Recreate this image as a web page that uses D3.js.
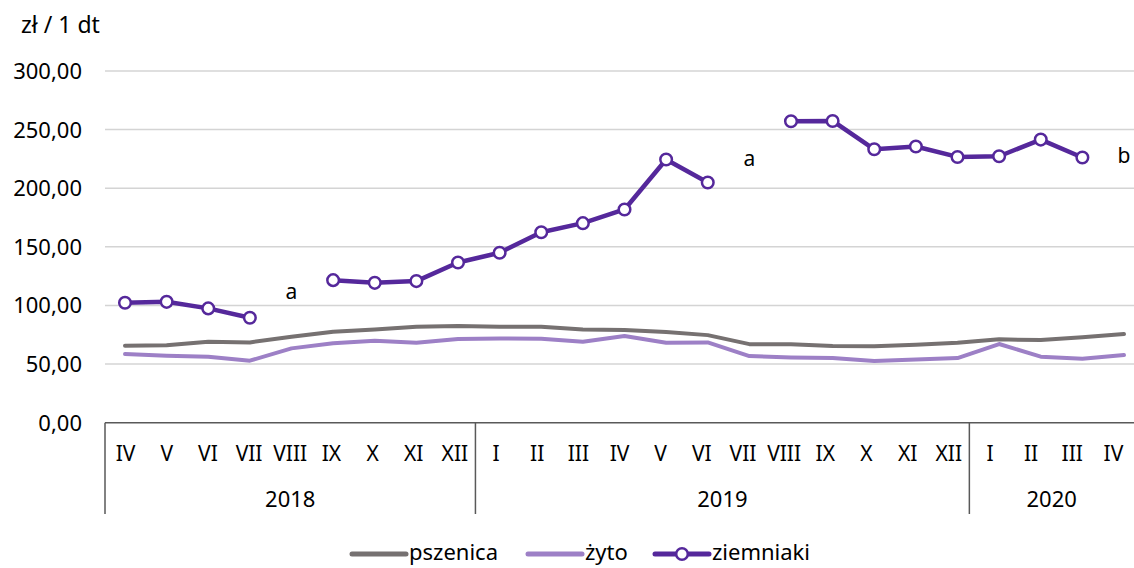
<!DOCTYPE html>
<html><head><meta charset="utf-8">
<script src="https://cdn.jsdelivr.net/npm/d3@7"></script>
<style>body{margin:0;background:#fff}svg{display:block}text{font-family:"Noto Sans",sans-serif;fill:#000}</style>
</head><body>
<script>
const months = ["IV","V","VI","VII","VIII","IX","X","XI","XII","I","II","III","IV","V","VI","VII","VIII","IX","X","XI","XII","I","II","III","IV"];
const years = [{label:"2018", start:0, end:9},{label:"2019", start:9, end:21},{label:"2020", start:21, end:25}];
const pszenica = [65.6,66,69,68.5,73.3,77.6,79.6,81.8,82.4,81.8,81.8,79.6,79,77.3,74.7,67,67,65.4,65.2,66.5,68.2,71.1,70.5,72.8,75.6];
const zyto = [58.6,57.1,56.3,52.9,63.4,67.7,69.9,68.2,71.3,71.9,71.6,69,73.9,68.2,68.5,56.8,55.7,55.1,52.6,54,55.1,67.1,56.3,54.6,57.7];
const ziemniaki = [102.3,103.1,97.5,89.5,null,121.6,119.3,120.8,136.7,145,162.5,170.2,181.9,224.5,204.9,null,257.1,257.4,233.2,235.6,226.7,227.3,241.5,226.2,null];
const yTicks = [0,50,100,150,200,250,300];
const notes = [{i:4, v:112, t:"a"},{i:15, v:225, t:"a"},{i:24, v:228, t:"b"}];
const seriesNames = ["pszenica","żyto","ziemniaki"];

const W=1134, H=568;
const colors = {pszenica:"#767171", "żyto":"#9D80C6", ziemniaki:"#55289B"};
const svg = d3.select("body").append("svg").attr("width",W).attr("height",H);

const y = d3.scaleLinear().domain([0,300]).range([422.7,71]);
const idx = d3.range(months.length);
const xp = d3.scalePoint().domain(idx).range([125,1124]);
const xb = d3.scaleBand().domain(idx).range([105,1134]);
const left = 105, right = 1134;

// grid
svg.append("g").selectAll("line").data(yTicks.filter(d=>d>0)).join("line")
  .attr("x1",left).attr("x2",right).attr("y1",d=>y(d)).attr("y2",d=>y(d))
  .attr("stroke","#d4d4d4").attr("stroke-width",1.5);

// y tick labels
svg.append("g").selectAll("text").data(yTicks).join("text")
  .attr("x",82).attr("y",d=>y(d)).attr("dy","0.36em").attr("text-anchor","end")
  .style("font-size","22px").text(d=>d3.format(".2f")(d).replace(".",","));
svg.append("text").attr("x",21).attr("y",33).style("font-size","23px").text("zł / 1 dt");

// x axis box
const axisG = svg.append("g");
axisG.append("line").attr("x1",left).attr("x2",right).attr("y1",y(0)).attr("y2",y(0)).attr("stroke","#595959").attr("stroke-width",1.5);
const seps = [0, ...years.slice(1).map(d=>d.start)];
axisG.selectAll("line.sep").data(seps).join("line").attr("class","sep")
  .attr("x1",d=>d===0?left:xb(d)).attr("x2",d=>d===0?left:xb(d))
  .attr("y1",y(0)).attr("y2",514).attr("stroke","#595959").attr("stroke-width",1.5);
axisG.selectAll("text.m").data(months).join("text").attr("class","m")
  .attr("x",(d,i)=>xb(i)+xb.bandwidth()/2).attr("y",453).attr("dy","0.36em")
  .attr("text-anchor","middle").style("font-size","21px").text(d=>d);
axisG.selectAll("text.yr").data(years).join("text").attr("class","yr")
  .attr("x",d=>((d.start===0?left:xb(d.start)) + (d.end>=months.length?right:xb(d.end)))/2)
  .attr("y",499).attr("dy","0.36em").attr("text-anchor","middle").style("font-size","22px").text(d=>d.label);

// lines
const line = d3.line().defined(d=>d!=null).x((d,i)=>xp(i)).y(d=>y(d));
const series = [{n:"pszenica", v:pszenica},{n:"żyto", v:zyto},{n:"ziemniaki", v:ziemniaki}];
series.forEach(s=>{
  svg.append("path").attr("d",line(s.v)).attr("fill","none").attr("stroke",colors[s.n])
    .attr("stroke-width",s.n==="ziemniaki"?4.5:4).attr("stroke-linejoin","round").attr("stroke-linecap","round");
});
svg.append("g").selectAll("circle").data(ziemniaki.map((v,i)=>({v,i})).filter(d=>d.v!=null)).join("circle")
  .attr("cx",d=>xp(d.i)).attr("cy",d=>y(d.v)).attr("r",5.8)
  .attr("fill","#fff").attr("stroke",colors.ziemniaki).attr("stroke-width",2.5);

// notes
svg.append("g").selectAll("text").data(notes).join("text")
  .attr("x",d=>xp(d.i)).attr("y",d=>y(d.v)).attr("dy","0.36em").attr("text-anchor","middle")
  .style("font-size","21px").text(d=>d.t);

// legend
const legX = [352, 528, 655];
const lg = svg.append("g");
seriesNames.forEach((n,k)=>{
  const x0 = legX[k], ly = 554;
  lg.append("line").attr("x1",x0).attr("x2",x0+54).attr("y1",ly).attr("y2",ly)
    .attr("stroke",colors[n]).attr("stroke-width",5).attr("stroke-linecap","round");
  if(n==="ziemniaki") lg.append("circle").attr("cx",x0+27).attr("cy",ly).attr("r",5.8)
    .attr("fill","#fff").attr("stroke",colors[n]).attr("stroke-width",2.5);
  lg.append("text").attr("x",x0+57).attr("y",560).style("font-size","22px").text(n);
});
</script>
</body></html>
